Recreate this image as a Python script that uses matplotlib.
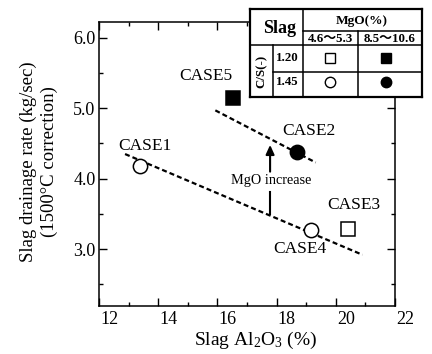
"""Slag drainage rate vs slag Al2O3, with MgO / C/S legend table."""

import matplotlib
matplotlib.use("Agg")
import matplotlib.pyplot as plt
import matplotlib.transforms as mtransforms
from matplotlib.ticker import MultipleLocator, FormatStrFormatter

plt.rcParams["font.family"] = ["Liberation Serif", "Noto Sans CJK JP"]
plt.rcParams["mathtext.fontset"] = "custom"
plt.rcParams["mathtext.rm"] = "Liberation Serif"
plt.rcParams["mathtext.it"] = "Liberation Serif:italic"
plt.rcParams["lines.scale_dashes"] = False

# cases: Al2O3 (%), drainage rate (kg/sec)
case_names = ["CASE1", "CASE2", "CASE3", "CASE4", "CASE5"]
case_al2o3 = [13.39, 18.68, 20.40, 19.15, 16.53]
case_rate = [4.18, 4.38, 3.28, 3.27, 5.14]
case_marker = ["o", "o", "s", "o", "s"]
case_filled = [False, True, False, False, True]

# label positions for each case
label_x = [13.56, 19.08, 20.60, 18.80, 15.60]
label_y = [4.46, 4.67, 3.63, 3.00, 5.46]

# trend lines (end points)
low_line_x = [12.88, 20.90]
low_line_y = [4.35, 2.92]
high_line_x = [15.93, 19.32]
high_line_y = [4.97, 4.23]

# "MgO increase" arrow
arrow_x = 17.78
arrow_tail, arrow_head = 4.10, 4.48
stub_y = [3.50, 3.81]

fig = plt.figure(figsize=(4.32, 3.54), dpi=100)
ax = fig.add_axes([99 / 432, 1 - 305.5 / 354, 296 / 432, 283.2 / 354])

ax.plot(low_line_x, low_line_y, color="black", lw=1.6, dashes=(3.6, 2.2), zorder=2)
ax.plot(high_line_x, high_line_y, color="black", lw=1.6, dashes=(3.6, 2.2), zorder=2)

for x, y, m, f in zip(case_al2o3, case_rate, case_marker, case_filled):
    ax.plot(x, y, marker=m, ms=10.3, mew=1.1, mec="black",
            mfc="black" if f else "white", ls="none", zorder=3)

for name, x, y in zip(case_names, label_x, label_y):
    ax.text(x, y, name, fontsize=12.5, ha="center", va="center", zorder=4)

ax.annotate("", xy=(arrow_x, arrow_head), xytext=(arrow_x, arrow_tail),
            arrowprops=dict(arrowstyle="-|>,head_width=0.25,head_length=0.55",
                            color="black", lw=1.5, shrinkA=0, shrinkB=0))
ax.plot([arrow_x, arrow_x], stub_y, color="black", lw=1.5)
ax.text(17.82, 3.98, "MgO increase", fontsize=10.3, ha="center", va="center")

ax.set_xlim(12, 22)
ax.set_ylim(2.2, 6.22)
ax.xaxis.set_major_locator(MultipleLocator(2))
ax.xaxis.set_minor_locator(MultipleLocator(1))
ax.yaxis.set_major_locator(MultipleLocator(1))
ax.yaxis.set_minor_locator(MultipleLocator(0.5))
ax.yaxis.set_major_formatter(FormatStrFormatter("%.1f"))
ax.tick_params(which="both", direction="in", top=True, right=True, width=1.0,
               labelsize=13)
ax.tick_params(which="major", length=6)
ax.tick_params(which="minor", length=3.2)
ax.tick_params(axis="x", pad=4)
ax.tick_params(axis="y", pad=2.5)
for s in ax.spines.values():
    s.set_linewidth(1.1)

# the scanned original has x labels sitting a little right of their ticks
shift = mtransforms.ScaledTranslation(0.1, 0, fig.dpi_scale_trans)
for lab in ax.get_xticklabels():
    lab.set_transform(lab.get_transform() + shift)

fig.text(256 / 432, 1 - 340 / 354, r"Slag Al$_2$O$_3$ (%)", fontsize=14,
         ha="center", va="center")
fig.text(39 / 432, 1 - 161.7 / 354,
         "Slag drainage rate (kg/sec)\n(1500°C correction)",
         fontsize=13.5, rotation=90, ha="center", va="center",
         multialignment="center", linespacing=1.3)

# legend table, laid out in pixel units
tx0, tx1, ty0, ty1 = 250, 421.7, 9.3, 97.3
tax = fig.add_axes([tx0 / 432, 1 - ty1 / 354, (tx1 - tx0) / 432, (ty1 - ty0) / 354])
tax.set_xlim(tx0, tx1)
tax.set_ylim(ty1, ty0)
tax.set_xticks([])
tax.set_yticks([])
tax.set_facecolor("white")
for s in tax.spines.values():
    s.set_linewidth(1.6)

c1, c2, c3 = 272.7, 302.7, 358.3
r1, r2, r3 = 30.7, 45.0, 71.7
grid = dict(color="black", lw=1.1)
tax.plot([c2, c2], [ty0, ty1], **grid)
tax.plot([c1, c1], [r2, ty1], **grid)
tax.plot([c3, c3], [r1, ty1], **grid)
tax.plot([c2, tx1], [r1, r1], **grid)
tax.plot([tx0, tx1], [r2, r2], **grid)
tax.plot([c1, tx1], [r3, r3], **grid)

bold = dict(fontweight="bold", ha="center", va="center")
tax.text(279.3, 28.5, "Slag", fontsize=13, **bold)
tax.text(361.7, 20.7, "MgO(%)", fontsize=9.6, **bold)
tax.text(330, 39, "4.6～5.3", fontsize=9.3, **bold)
tax.text(390, 39, "8.5～10.6", fontsize=9.3, **bold)
tax.text(261.7, 71, "C/S(-)", fontsize=9.3, rotation=90, **bold)
tax.text(287.5, 58.3, "1.20", fontsize=9.3, **bold)
tax.text(287.5, 81.7, "1.45", fontsize=9.3, **bold)

mk = dict(ms=7.5, mew=1.0, mec="black", ls="none")
tax.plot(330, 58.3, marker="s", mfc="white", **mk)
tax.plot(385.7, 58.3, marker="s", mfc="black", **mk)
tax.plot(330, 81.7, marker="o", mfc="white", **mk)
tax.plot(385.7, 81.7, marker="o", mfc="black", **mk)

fig.savefig("out.png", dpi=100)
